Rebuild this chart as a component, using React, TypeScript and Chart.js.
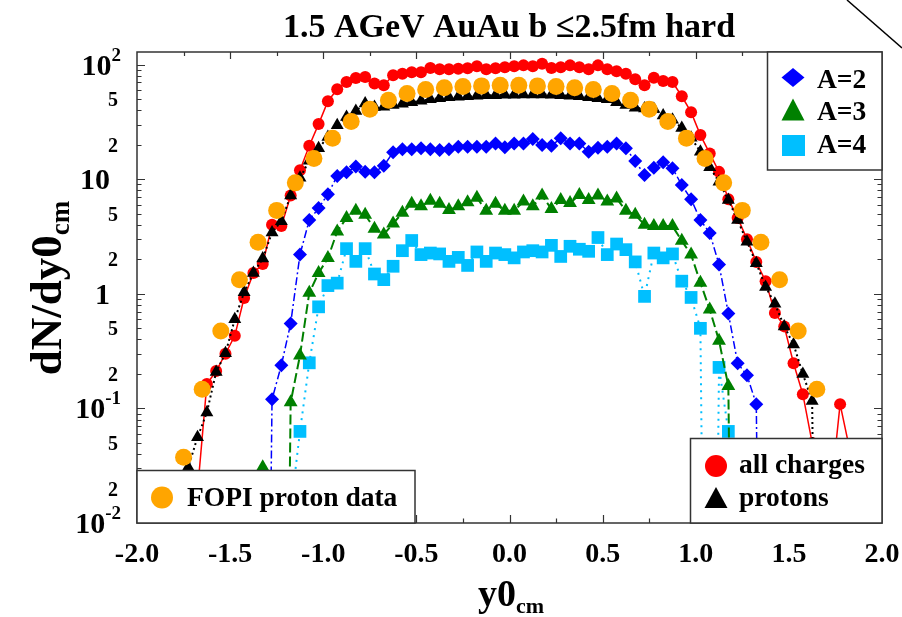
import React, { useEffect, useRef } from 'react';
import { Chart, registerables } from 'chart.js';

Chart.register(...registerables);

// ---------- data ----------
const binX = [
  -1.775, -1.725, -1.675, -1.625, -1.575, -1.525, -1.475, -1.425, -1.375, -1.325,
  -1.275, -1.225, -1.175, -1.125, -1.075, -1.025, -0.975, -0.925, -0.875, -0.825,
  -0.775, -0.725, -0.675, -0.625, -0.575, -0.525, -0.475, -0.425, -0.375, -0.325,
  -0.275, -0.225, -0.175, -0.125, -0.075, -0.025, 0.025, 0.075, 0.125, 0.175,
  0.225, 0.275, 0.325, 0.375, 0.425, 0.475, 0.525, 0.575, 0.625, 0.675,
  0.725, 0.775, 0.825, 0.875, 0.925, 0.975, 1.025, 1.075, 1.125, 1.175,
  1.225, 1.275, 1.325, 1.375, 1.425, 1.475, 1.525, 1.575, 1.625, 1.675,
  1.725, 1.775, 1.825,
];

const allCharges = [
  null, null, 0.019, 0.163, 0.212, 0.30, 0.43, 0.92, 1.52, 1.82,
  4.0, 3.9, 7.2, 12.0, 19.6, 30.3, 48, 61, 70.6, 76.6,
  78, 68.4, 66, 80.7, 83.5, 86, 86, 93.4, 91, 91,
  92, 93, 96.7, 91, 93, 95, 96.7, 98.6, 97, 102,
  93.4, 95, 98.6, 95, 91, 98.6, 91, 87.5, 83.5, 74.5,
  66, 77, 72, 70.6, 53, 38.5, 24.3, 16.8, 11.6, 6.7,
  4.6, 3.0, 1.9, 1.29, 0.68, 0.52, 0.248, 0.133, 0.05, 0.012,
  0.018, 0.109, 0.045,
];

const protons = [
  0.015, 0.0307, 0.056, 0.092, 0.208, 0.303, 0.60, 1.03, 1.52, 2.03,
  3.43, 4.3, 7.2, 10.3, 14.5, 18.6, 23.4, 29.6, 35, 39.5,
  45.8, 42.8, 43, 44.5, 45.5, 47, 48.4, 50, 51, 52,
  52.5, 53, 53.5, 54, 54, 54.6, 54.6, 55, 55, 55,
  54.6, 54, 53.5, 53, 52, 51, 50, 47, 44.5, 42,
  41.5, 41, 36, 33, 28, 23, 17.4, 12.7, 9.5, 6.6,
  4.4, 2.85, 1.85, 1.15, 0.82, 0.52, 0.362, 0.2, 0.116, 1e-8,
  null, null, null,
];

const a2 = [
  null, null, null, null, null, null, null, null, null, 1e-8,
  0.12, 0.238, 0.55, 2.2, 4.4, 5.6, 7.4, 10.7, 11.5, 12.9,
  11.6, 11.5, 13.1, 17.2, 18.3, 18.3, 18.6, 18.3, 18, 18.3,
  19.2, 19.2, 19.2, 19.2, 20.5, 19, 20.5, 20.5, 22.4, 19.9,
  19.6, 22.8, 20.5, 20.5, 17.4, 18.8, 19.2, 20.5, 18.6, 14.4,
  10.9, 12.6, 14.1, 12.5, 8.9, 6.7, 4.4, 3.4, 1.8, 0.675,
  0.248, 0.195, 0.109, 1e-8, null, null, null, null, null, null,
  null, null, null,
];

const a3 = [
  null, null, null, null, null, null, null, null, 1e-8, 0.0307,
  1e-8, 1e-8, 0.113, 0.29, 1.02, 1.52, 2.05, 3.5, 4.6, 5.3,
  4.9, 3.7, 3.3, 4.1, 5.1, 6.1, 5.8, 6.5, 6.1, 5.4,
  5.8, 6.3, 6.9, 5.3, 6.1, 5.3, 5.3, 6.4, 5.8, 7.2,
  5.5, 6.6, 6.2, 7.3, 6.6, 7.2, 6.4, 6.8, 5.3, 4.9,
  4.0, 3.9, 3.9, 3.9, 2.9, 2.2, 1.25, 0.73, 0.39, 0.157,
  1e-8, null, null, null, null, null, null, null, null, null,
  null, null, null,
];

const a4 = [
  null, null, null, null, null, null, null, null, null, null,
  null, 1e-8, 0.013, 0.063, 0.25, 0.77, 1.18, 1.24, 2.48, 1.92,
  2.48, 1.49, 1.33, 1.74, 2.38, 2.92, 2.2, 2.27, 2.23, 1.92,
  2.08, 1.77, 2.32, 1.92, 2.27, 2.2, 2.06, 2.32, 2.38, 2.32,
  2.65, 2.12, 2.6, 2.45, 2.35, 3.1, 2.2, 2.72, 2.43, 1.9,
  0.95, 2.27, 2.06, 2.23, 1.29, 0.93, 0.5, 1e-8, 0.228, 0.063,
  1e-8, null, null, null, null, null, null, null, null, null,
  null, null, null,
];

const fopiX = [
  -1.75, -1.65, -1.55, -1.45, -1.35, -1.25, -1.15, -1.05, -0.95, -0.85,
  -0.75, -0.65, -0.55, -0.45, -0.35, -0.25, -0.15, -0.05, 0.05, 0.15,
  0.25, 0.35, 0.45, 0.55, 0.65, 0.75, 0.85, 0.95, 1.05, 1.15,
  1.25, 1.35, 1.45, 1.55, 1.65, 1.75,
];
const fopiProton = [
  0.0375, 0.147, 0.473, 1.33, 2.82, 5.35, 9.3, 15.2, 22.8, 31.9,
  40.8, 49, 56, 60.6, 63, 64.5, 65.3, 66, 66, 65.3,
  64.5, 63, 60.6, 56, 49, 40.8, 31.9, 22.8, 15.2, 9.3,
  5.35, 2.82, 1.33, 0.473, 0.147, 0.0375,
];

const xTickValues = [-2, -1.5, -1, -0.5, 0, 0.5, 1, 1.5, 2];
const xTickLabels = ['-2.0', '-1.5', '-1.0', '-0.5', '0.0', '0.5', '1.0', '1.5', '2.0'];
const yTickValues = [100, 50, 20, 10, 5, 2, 1, 0.5, 0.2, 0.1, 0.05, 0.02, 0.01];
const yTickLabels = ['10', '5', '2', '10', '5', '2', '1', '5', '2', '10', '5', '2', '10'];
const yTickSups = ['2', '', '', '', '', '', '', '', '', '-1', '', '', '-2'];

const titleText = '1.5 AGeV AuAu b \u22642.5fm hard';

const COLORS = {
  red: '#ff0000',
  black: '#000000',
  orange: '#ffa500',
  blue: '#0000ff',
  green: '#008000',
  cyan: '#00bfff',
};

const FONT = '"Liberation Serif", "Times New Roman", serif';

function pts(xs: number[], ys: (number | null)[]) {
  const out: { x: number; y: number }[] = [];
  xs.forEach((x, i) => {
    const y = ys[i];
    if (y !== null && y !== undefined) out.push({ x, y });
  });
  return out;
}

function setFont(ctx: CanvasRenderingContext2D, size: number) {
  ctx.font = `bold ${size}px ${FONT}`;
}

const decorPlugin = {
  id: 'decor',
  afterDatasetsDraw(chart: any) {
    const ctx: CanvasRenderingContext2D = chart.ctx;
    const { left, right, top, bottom } = chart.chartArea;
    const xs = chart.scales.x;
    const ys = chart.scales.y;
    ctx.save();
    // frame
    ctx.strokeStyle = '#333';
    ctx.lineWidth = 1.5;
    ctx.strokeRect(left, top, right - left, bottom - top);
    // x ticks
    ctx.lineWidth = 1.2;
    ctx.beginPath();
    for (let k = -8; k <= 8; k++) {
      const v = k * 0.25;
      const px = Math.round(xs.getPixelForValue(v)) + 0.5;
      if (px <= left + 1 || px >= right - 1) continue;
      const major = k % 2 === 0;
      ctx.moveTo(px, bottom);
      ctx.lineTo(px, bottom - (major ? 8 : 4.5));
      ctx.moveTo(px, top);
      ctx.lineTo(px, top + (major ? 7 : 4));
    }
    // y ticks
    const decades = [0.01, 0.1, 1, 10, 100];
    decades.forEach((d) => {
      for (let m = 1; m <= 9; m++) {
        const v = m * d;
        if (v < ys.min || v > ys.max) continue;
        const py = Math.round(ys.getPixelForValue(v)) + 0.5;
        if (py >= bottom - 1 || py <= top + 1) continue;
        const len = m === 1 ? 8 : 4.5;
        ctx.moveTo(left, py);
        ctx.lineTo(left + len, py);
        ctx.moveTo(right, py);
        ctx.lineTo(right - len, py);
      }
    });
    ctx.stroke();

    ctx.fillStyle = '#000';
    // y labels
    yTickValues.forEach((v, i) => {
      const py = ys.getPixelForValue(v);
      const main = yTickLabels[i];
      const sup = yTickSups[i];
      const major = main === '10' || main === '1';
      if (sup) {
        setFont(ctx, 30);
        const w1 = ctx.measureText(main).width;
        setFont(ctx, 19);
        const w2 = ctx.measureText(sup).width;
        const x0 = 121 - w1 - w2;
        ctx.textAlign = 'left';
        ctx.textBaseline = 'alphabetic';
        setFont(ctx, 30);
        ctx.fillText(main, x0, py + 10);
        setFont(ctx, 19);
        ctx.fillText(sup, x0 + w1, py - 4);
      } else if (major) {
        setFont(ctx, 30);
        ctx.textAlign = 'right';
        ctx.textBaseline = 'alphabetic';
        ctx.fillText(main, 110, py + 10);
      } else {
        setFont(ctx, 20);
        ctx.textAlign = 'right';
        ctx.textBaseline = 'alphabetic';
        ctx.fillText(main, 118, py + 7);
      }
    });
    // x labels
    setFont(ctx, 28);
    ctx.textAlign = 'center';
    ctx.textBaseline = 'alphabetic';
    xTickValues.forEach((v, i) => {
      ctx.fillText(xTickLabels[i], xs.getPixelForValue(v), 562);
    });
    // title
    setFont(ctx, 34);
    ctx.fillText(titleText, 509, 37);
    // x title
    setFont(ctx, 38);
    const wy = ctx.measureText('y0').width;
    setFont(ctx, 22);
    const wc = ctx.measureText('cm').width;
    const xs0 = 511 - (wy + wc) / 2;
    ctx.textAlign = 'left';
    setFont(ctx, 38);
    ctx.fillText('y0', xs0, 606);
    setFont(ctx, 22);
    ctx.fillText('cm', xs0 + wy, 613);
    // y title
    ctx.save();
    ctx.translate(61, 288);
    ctx.rotate(-Math.PI / 2);
    setFont(ctx, 45);
    const wd = ctx.measureText('dN/dy0').width;
    setFont(ctx, 27);
    const wc2 = ctx.measureText('cm').width;
    const s0 = -(wd + wc2) / 2;
    setFont(ctx, 45);
    ctx.fillText('dN/dy0', s0, 0);
    setFont(ctx, 27);
    ctx.fillText('cm', s0 + wd, 8);
    ctx.restore();

    // diagonal stroke top right
    ctx.strokeStyle = '#000';
    ctx.lineWidth = 1.5;
    ctx.beginPath();
    ctx.moveTo(847, 0);
    ctx.lineTo(902, 48);
    ctx.stroke();

    // legends
    const legBox = (x1: number, y1: number, x2: number, y2: number) => {
      ctx.fillStyle = '#fff';
      ctx.fillRect(x1, y1, x2 - x1, y2 - y1);
      ctx.strokeStyle = '#333';
      ctx.lineWidth = 1.5;
      ctx.strokeRect(x1, y1, x2 - x1, y2 - y1);
    };
    const circle = (cx: number, cy: number, r: number, c: string) => {
      ctx.fillStyle = c;
      ctx.beginPath();
      ctx.arc(cx, cy, r, 0, Math.PI * 2);
      ctx.fill();
    };
    const tri = (cx: number, cy: number, hw: number, h: number, c: string) => {
      ctx.fillStyle = c;
      ctx.beginPath();
      ctx.moveTo(cx, cy - h / 2);
      ctx.lineTo(cx + hw, cy + h / 2);
      ctx.lineTo(cx - hw, cy + h / 2);
      ctx.closePath();
      ctx.fill();
    };
    const legText = (s: string, x: number, y: number) => {
      ctx.fillStyle = '#000';
      setFont(ctx, 27.5);
      ctx.textAlign = 'left';
      ctx.textBaseline = 'alphabetic';
      ctx.fillText(s, x, y);
    };

    // legend A=2,3,4
    legBox(767.5, top, right, 170);
    ctx.fillStyle = COLORS.blue;
    ctx.beginPath();
    ctx.moveTo(793, 68);
    ctx.lineTo(804.5, 77.5);
    ctx.lineTo(793, 87);
    ctx.lineTo(781.5, 77.5);
    ctx.closePath();
    ctx.fill();
    legText('A=2', 817, 88);
    tri(793, 109.5, 11.5, 22, COLORS.green);
    legText('A=3', 817, 120);
    ctx.fillStyle = COLORS.cyan;
    ctx.fillRect(782, 135, 23, 21);
    legText('A=4', 817, 153);

    // legend all charges / protons
    legBox(690.5, 438.5, right, bottom);
    circle(716, 466, 11, COLORS.red);
    legText('all charges', 739, 473);
    tri(716, 497.5, 11.5, 21, COLORS.black);
    legText('protons', 739, 506);

    // legend FOPI
    legBox(left, 470.5, 415, bottom);
    circle(162, 497.5, 11, COLORS.orange);
    legText('FOPI proton data', 187, 506);

    ctx.restore();
  },
};

export default function App() {
  const ref = useRef<HTMLCanvasElement>(null);
  useEffect(() => {
    if (!ref.current) return;
    const lineBase = {
      showLine: true,
      tension: 0,
      clip: 0,
      pointBorderWidth: 0,
    };
    const chart = new Chart(ref.current, {
      type: 'scatter',
      data: {
        datasets: [
          {
            ...lineBase,
            label: 'FOPI proton data',
            data: pts(fopiX, fopiProton),
            showLine: false,
            pointStyle: 'circle',
            pointRadius: 8.5,
            backgroundColor: COLORS.orange,
            borderColor: COLORS.orange,
          },
          {
            ...lineBase,
            label: 'protons',
            data: pts(binX, protons),
            pointStyle: 'triangle',
            pointRadius: 7.5,
            backgroundColor: COLORS.black,
            borderColor: COLORS.black,
            borderWidth: 2,
            borderDash: [2, 3],
          },
          {
            ...lineBase,
            label: 'all charges',
            data: pts(binX, allCharges),
            pointStyle: 'circle',
            pointRadius: 6,
            backgroundColor: COLORS.red,
            borderColor: COLORS.red,
            borderWidth: 1.5,
          },
          {
            ...lineBase,
            label: 'A=2',
            data: pts(binX, a2),
            pointStyle: 'rectRot',
            pointRadius: 7,
            backgroundColor: COLORS.blue,
            borderColor: COLORS.blue,
            borderWidth: 1.5,
            borderDash: [8, 3, 2, 3],
          },
          {
            ...lineBase,
            label: 'A=3',
            data: pts(binX, a3),
            pointStyle: 'triangle',
            pointRadius: 8,
            backgroundColor: COLORS.green,
            borderColor: COLORS.green,
            borderWidth: 2,
            borderDash: [10, 4],
          },
          {
            ...lineBase,
            label: 'A=4',
            data: pts(binX, a4),
            pointStyle: 'rect',
            pointRadius: 9,
            backgroundColor: COLORS.cyan,
            borderColor: COLORS.cyan,
            borderWidth: 2,
            borderDash: [2, 5],
          },
        ] as any,
      },
      options: {
        responsive: false,
        maintainAspectRatio: false,
        animation: false,
        devicePixelRatio: 1,
        events: [],
        layout: { padding: { left: 137, top: 52, right: 20, bottom: 94 } },
        plugins: { legend: { display: false }, tooltip: { enabled: false }, title: { display: false } },
        scales: {
          x: { type: 'linear', min: -2, max: 2, display: false },
          y: { type: 'logarithmic', min: 0.01, max: 129, display: false },
        },
      } as any,
      plugins: [decorPlugin],
    });
    return () => chart.destroy();
  }, []);
  return (
    <div style={{ position: 'absolute', left: 0, top: 0, width: 902, height: 617, background: '#fff' }}>
      <canvas ref={ref} width={902} height={617} style={{ display: 'block', width: 902, height: 617 }} />
    </div>
  );
}
